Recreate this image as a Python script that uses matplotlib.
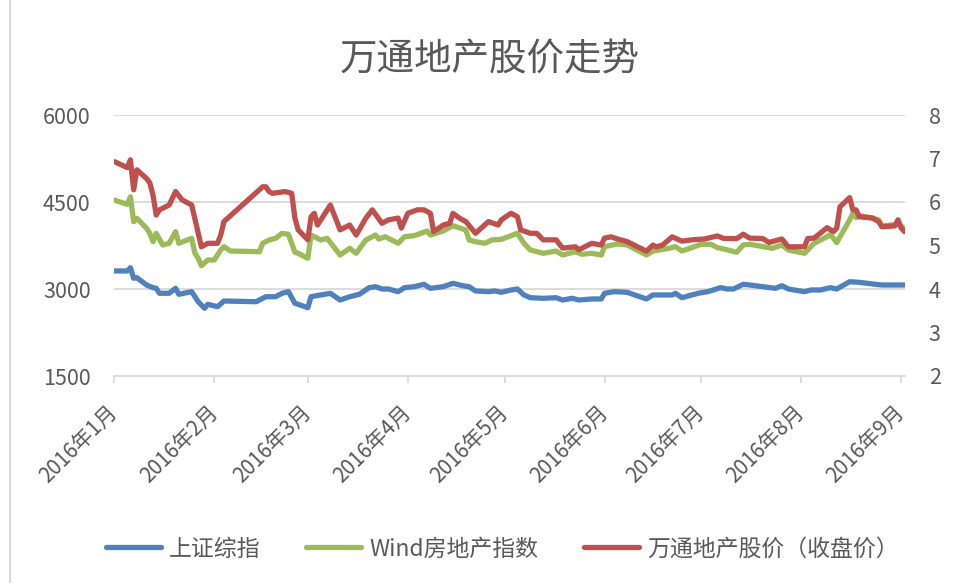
import pandas as pd
import matplotlib
matplotlib.use('Agg')
from matplotlib import pyplot as plt
import matplotlib.dates as mdates
from matplotlib.lines import Line2D

plt.rcParams['font.family'] = ['Noto Sans CJK SC', 'DejaVu Sans']

## -----------------
## DATA
## -----------------

# 上证综指 (left axis)
sh_dates = ['01-01', '01-05', '01-06', '01-07', '01-08', '01-11', '01-13', '01-14', '01-15', '01-18',
            '01-20', '01-21', '01-25', '01-27', '01-29', '01-30', '02-02', '02-04', '02-14', '02-17',
            '02-20', '02-22', '02-24', '02-26', '02-27', '03-01', '03-02', '03-05', '03-08', '03-11',
            '03-14', '03-17', '03-20', '03-22', '03-24', '03-26', '03-29', '03-31', '04-03', '04-06',
            '04-08', '04-12', '04-15', '04-18', '04-20', '04-22', '04-26', '04-28', '04-30', '05-03',
            '05-05', '05-07', '05-09', '05-13', '05-17', '05-19', '05-22', '05-24', '05-28', '05-31',
            '06-01', '06-04', '06-08', '06-14', '06-16', '06-22', '06-23', '06-25', '06-30', '07-03',
            '07-07', '07-09', '07-11', '07-14', '07-16', '07-20', '07-24', '07-26', '07-28', '08-02',
            '08-04', '08-07', '08-10', '08-12', '08-16', '08-19', '08-24', '08-26', '08-31', '09-02']
sh_vals = [3311, 3311, 3367, 3185, 3195, 3069, 3023, 3012, 2926, 2926,
           3012, 2909, 2954, 2781, 2667, 2736, 2695, 2793, 2781, 2867,
           2867, 2926, 2954, 2753, 2736, 2678, 2867, 2897, 2926, 2810,
           2867, 2909, 3023, 3040, 3000, 3000, 2954, 3023, 3040, 3081,
           3012, 3040, 3098, 3057, 3040, 2966, 2954, 2966, 2943, 2983,
           3000, 2897, 2850, 2840, 2850, 2810, 2840, 2810, 2828, 2828,
           2926, 2954, 2943, 2828, 2897, 2897, 2926, 2850, 2926, 2954,
           3023, 3000, 3000, 3081, 3069, 3040, 3012, 3057, 3000, 2954,
           2983, 2983, 3023, 3000, 3126, 3115, 3081, 3069, 3069, 3069]

# Wind房地产指数 (left axis)
wind_dates = ['01-01', '01-05', '01-06', '01-07', '01-08', '01-11', '01-12', '01-13', '01-14', '01-16',
              '01-18', '01-20', '01-21', '01-25', '01-26', '01-27', '01-28', '01-30', '02-01', '02-03',
              '02-04', '02-06', '02-15', '02-16', '02-18', '02-20', '02-22', '02-24', '02-26', '02-27',
              '03-01', '03-02', '03-05', '03-07', '03-11', '03-14', '03-16', '03-19', '03-22', '03-23',
              '03-25', '03-29', '03-31', '04-03', '04-07', '04-08', '04-12', '04-15', '04-19', '04-20',
              '04-22', '04-25', '04-27', '04-30', '05-05', '05-07', '05-09', '05-13', '05-17', '05-19',
              '05-23', '05-25', '05-28', '05-31', '06-01', '06-05', '06-08', '06-14', '06-16', '06-21',
              '06-23', '06-25', '06-28', '07-01', '07-04', '07-06', '07-08', '07-12', '07-14', '07-16',
              '07-19', '07-23', '07-26', '07-28', '08-02', '08-05', '08-09', '08-10', '08-12', '08-16',
              '08-17', '08-18', '08-19', '08-23', '08-25', '08-26', '08-31', '09-02']
wind_vals = [4534, 4460, 4591, 4160, 4219, 4047, 3960, 3816, 3960, 3759,
             3788, 3988, 3788, 3874, 3616, 3530, 3402, 3500, 3500, 3672,
             3730, 3655, 3643, 3788, 3845, 3874, 3960, 3943, 3633, 3616,
             3530, 3931, 3845, 3874, 3586, 3702, 3616, 3845, 3931, 3862,
             3902, 3788, 3902, 3919, 4000, 3931, 4000, 4092, 4017, 3845,
             3816, 3788, 3845, 3857, 3960, 3788, 3672, 3616, 3655, 3586,
             3643, 3598, 3616, 3586, 3730, 3776, 3759, 3586, 3655, 3702,
             3730, 3655, 3713, 3771, 3771, 3713, 3690, 3633, 3759, 3771,
             3742, 3702, 3759, 3672, 3616, 3788, 3902, 3943, 3800, 4190,
             4305, 4230, 4264, 4229, 4190, 4086, 4116, 4047]

# 万通地产股价（收盘价） (right axis)
wt_dates = ['01-01', '01-05', '01-06', '01-07', '01-08', '01-11', '01-12', '01-13', '01-14', '01-15',
            '01-18', '01-20', '01-22', '01-25', '01-27', '01-28', '01-30', '02-02', '02-03', '02-04',
            '02-16', '02-17', '02-18', '02-19', '02-23', '02-25', '02-26', '02-27', '03-01', '03-02',
            '03-03', '03-04', '03-08', '03-11', '03-14', '03-16', '03-19', '03-21', '03-24', '03-26',
            '03-29', '03-30', '04-01', '04-04', '04-06', '04-08', '04-09', '04-12', '04-14', '04-15',
            '04-17', '04-19', '04-22', '04-26', '04-29', '04-30', '05-03', '05-05', '05-06', '05-09',
            '05-11', '05-13', '05-17', '05-19', '05-23', '05-24', '05-28', '05-31', '06-01', '06-03',
            '06-05', '06-08', '06-14', '06-16', '06-17', '06-19', '06-22', '06-25', '06-28', '07-02',
            '07-06', '07-08', '07-12', '07-14', '07-16', '07-20', '07-22', '07-26', '07-28', '08-02',
            '08-03', '08-05', '08-09', '08-11', '08-12', '08-13', '08-16', '08-17', '08-18', '08-19',
            '08-23', '08-25', '08-26', '08-30', '08-31', '09-01', '09-02']
wt_vals = [6.93, 6.79, 6.97, 6.28, 6.74, 6.54, 6.44, 6.16, 5.70, 5.82,
           5.93, 6.24, 6.05, 5.93, 5.29, 4.97, 5.05, 5.05, 5.24, 5.55,
           6.35, 6.35, 6.24, 6.20, 6.24, 6.20, 5.63, 5.36, 5.13, 5.66,
           5.74, 5.47, 5.93, 5.36, 5.47, 5.24, 5.63, 5.82, 5.51, 5.59,
           5.63, 5.40, 5.74, 5.82, 5.82, 5.74, 5.32, 5.47, 5.51, 5.74,
           5.63, 5.55, 5.28, 5.55, 5.47, 5.59, 5.74, 5.66, 5.36, 5.28,
           5.28, 5.13, 5.13, 4.94, 4.97, 4.90, 5.05, 5.01, 5.17, 5.20,
           5.15, 5.09, 4.87, 5.01, 4.97, 5.01, 5.20, 5.10, 5.13, 5.15,
           5.22, 5.16, 5.16, 5.26, 5.17, 5.16, 5.07, 5.15, 4.97, 4.97,
           5.16, 5.17, 5.41, 5.32, 5.40, 5.89, 6.10, 5.82, 5.82, 5.66,
           5.63, 5.55, 5.43, 5.45, 5.59, 5.40, 5.32]

left_ticks = [1500, 3000, 4500, 6000]
right_ticks = [2, 3, 4, 5, 6, 7, 8]

sh_dates = pd.to_datetime(['2016-' + d for d in sh_dates])
wind_dates = pd.to_datetime(['2016-' + d for d in wind_dates])
wt_dates = pd.to_datetime(['2016-' + d for d in wt_dates])

## -----------------
##  CHARTING
## -----------------

# office colours
c_blue = '#4F81BD'
c_green = '#9BBB59'
c_red = '#C0504D'
c_text = '#595959'
c_grid = '#D9D9D9'

fig = plt.figure(figsize=(9.59, 5.83), dpi=100)
fig.patch.set_facecolor('white')
ax = fig.add_axes([114.3 / 959, 1 - 376 / 583, (905 - 114.3) / 959, (376 - 115) / 583])

ax.plot(sh_dates, sh_vals, color=c_blue, linewidth=3.8, solid_joinstyle='round', solid_capstyle='round', label='上证综指')
ax.plot(wind_dates, wind_vals, color=c_green, linewidth=3.8, solid_joinstyle='round', solid_capstyle='round', label='Wind房地产指数')
ax.set_ylim(1500, 6000)
ax.set_yticks(left_ticks)
ax.set_xlim(pd.Timestamp('2016-01-01'), pd.Timestamp('2016-09-02 04:00'))
ax.grid(axis='y', color=c_grid, linewidth=1.3)
ax.set_axisbelow(True)

ax2 = ax.twinx()
ax2.plot(wt_dates, wt_vals, color=c_red, linewidth=3.8, solid_joinstyle='round', solid_capstyle='round', label='万通地产股价（收盘价）')
ax2.set_ylim(2, 8)
ax2.set_yticks(right_ticks)

for a in (ax, ax2):
    for s in ('top', 'left', 'right', 'bottom'):
        a.spines[s].set_visible(False)
ax.spines['bottom'].set_visible(True)
ax.spines['bottom'].set_color(c_grid)
ax.spines['bottom'].set_linewidth(1.3)

ax.tick_params(axis='y', length=0, pad=17, labelsize=15.5, labelcolor=c_text)
ax2.tick_params(axis='y', length=0, pad=17, labelsize=15.5, labelcolor=c_text)

# month ticks on the date axis
ax.xaxis.set_major_locator(mdates.MonthLocator())
ax.xaxis.set_major_formatter(plt.FuncFormatter(lambda v, p: '%d年%d月' % (mdates.num2date(v).year, mdates.num2date(v).month)))
ax.tick_params(axis='x', length=5, width=1.3, color=c_grid, pad=19, labelsize=15, labelcolor=c_text)
for lbl in ax.get_xticklabels():
    lbl.set_rotation(45)
    lbl.set_ha('right')
    lbl.set_va('center')
    lbl.set_rotation_mode('anchor')

# title
fig.text(490 / 959, 1 - 60 / 583, '万通地产股价走势', ha='center', va='center', fontsize=27, color=c_text, fontweight='light')

# legend at the bottom
h1, l1 = ax.get_legend_handles_labels()
h2, l2 = ax2.get_legend_handles_labels()
leg = fig.legend(h1 + h2, l1 + l2, loc='center', bbox_to_anchor=(502 / 959, 1 - 549 / 583), ncol=3,
                 frameon=False, fontsize=16.5, handlelength=2.4, handletextpad=0.35, columnspacing=2.0)
for t in leg.get_texts():
    t.set_color(c_text)

# chart border line on the left
fig.add_artist(Line2D([10 / 959, 10 / 959], [0, 1], transform=fig.transFigure, color=c_grid, linewidth=1.3))

fig.savefig('out.png', dpi=100, facecolor='white')
